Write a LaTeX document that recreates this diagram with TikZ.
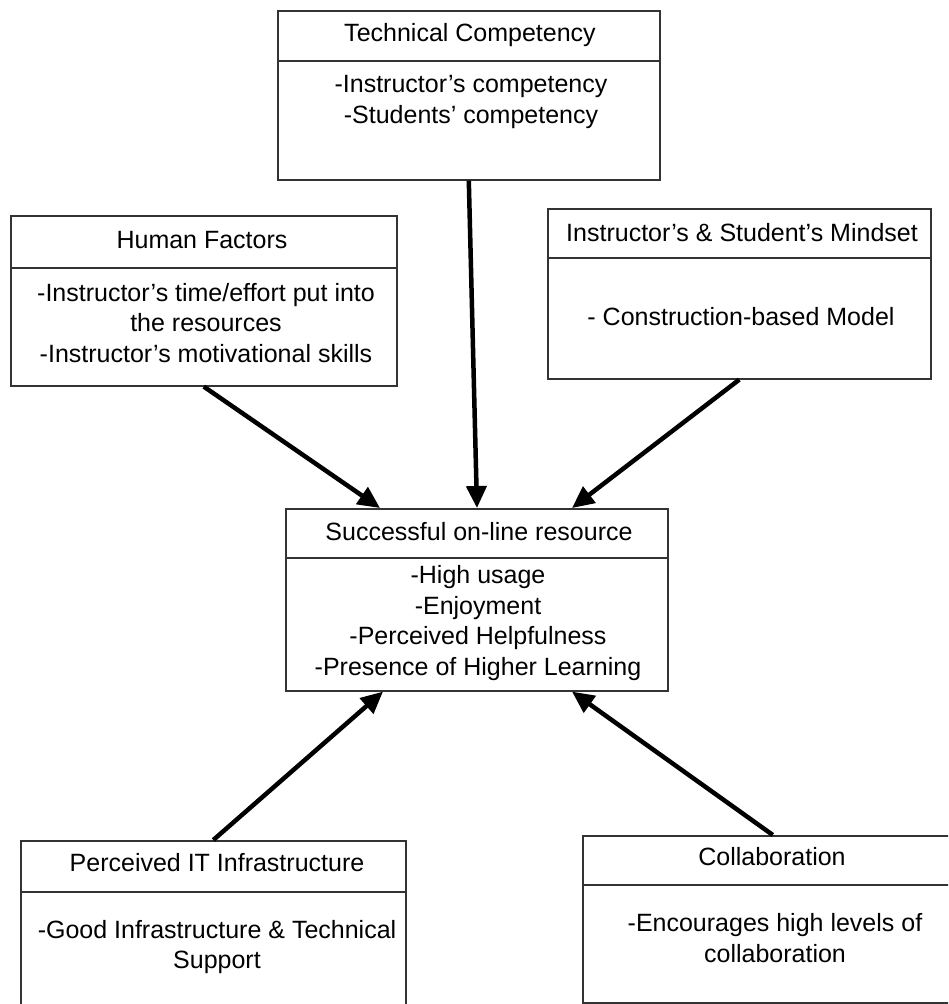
\documentclass[tikz,border=0pt]{standalone}
\usepackage{fontspec}
\setmainfont{Liberation Sans}
\usetikzlibrary{arrows.meta,calc}
\begin{document}
\begin{tikzpicture}[x=1pt,y=-1pt,
  frame/.style={draw=black!80, line width=1.6pt, rectangle, inner sep=0pt, anchor=north west},
  rule/.style={draw=black!80, line width=1.6pt},
  txt/.style={font=\fontsize{25}{30.5}\selectfont, align=center, inner sep=0pt, anchor=center},
  link/.style={line width=4.5pt, -{Triangle[length=22pt,width=20pt]}}]
\useasboundingbox (0,0) rectangle (948,1004);
\clip (0,0) rectangle (948,1004);

% Technical Competency
\node[frame, minimum width=382pt, minimum height=169pt] (tech) at (277,10) {};
\draw[rule] ($(tech.north west)+(0,51)$) -- ($(tech.north east)+(0,51)$);
\node[txt] (techT) at (470,35) {Technical Competency};
\node[txt] (techB) at (471,102) {-Instructor's competency\\-Students' competency};

% Human Factors
\node[frame, minimum width=386pt, minimum height=170pt] (human) at (10,215) {};
\draw[rule] ($(human.north west)+(0,53)$) -- ($(human.north east)+(0,53)$);
\node[txt] (humanT) at (202,240) {Human Factors};
\node[txt] (humanB) at (206,323) {-Instructor's time/effort put into\\the resources\\-Instructor's motivational skills};

% Instructor's & Student's Mindset
\node[frame, minimum width=383pt, minimum height=170pt] (mind) at (547,208) {};
\draw[rule] ($(mind.north west)+(0,50)$) -- ($(mind.north east)+(0,50)$);
\node[txt] (mindT) at (742,233) {Instructor's \& Student's Mindset};
\node[txt] (mindB) at (741,317) {- Construction-based Model};

% Successful on-line resource
\node[frame, minimum width=382pt, minimum height=182pt] (succ) at (285,508) {};
\draw[rule] ($(succ.north west)+(0,50)$) -- ($(succ.north east)+(0,50)$);
\node[txt] (succT) at (479,532) {Successful on-line resource};
\node[txt] (succB) at (478,623) {-High usage\\-Enjoyment\\-Perceived Helpfulness\\-Presence of Higher Learning};

% Perceived IT Infrastructure
\node[frame, minimum width=385pt, minimum height=185pt] (perc) at (20,840) {};
\draw[rule] ($(perc.north west)+(0,52)$) -- ($(perc.north east)+(0,52)$);
\node[txt] (percT) at (217,863) {Perceived IT Infrastructure};
\node[txt] (percB) at (217,947) {-Good Infrastructure \& Technical\\Support};

% Collaboration
\node[frame, minimum width=380pt, minimum height=167pt] (collab) at (582,835) {};
\draw[rule] ($(collab.north west)+(0,50)$) -- ($(collab.north east)+(0,50)$);
\node[txt] (collabT) at (772,857) {Collaboration};
\node[txt] (collabB) at (775,938) {-Encourages high levels of\\collaboration};

% Influences on the central resource
\draw[link] (tech.south) -- ($(succ.north west)+(192,0)$);
\draw[link] (human.south) -- ($(succ.north west)+(95,0)$);
\draw[link] (mind.south) -- ($(succ.north west)+(287,0)$);
\draw[link] (perc.north) -- ($(succ.south west)+(98,0)$);
\draw[link] (collab.north) -- ($(succ.south west)+(287,0)$);
\end{tikzpicture}
\end{document}
